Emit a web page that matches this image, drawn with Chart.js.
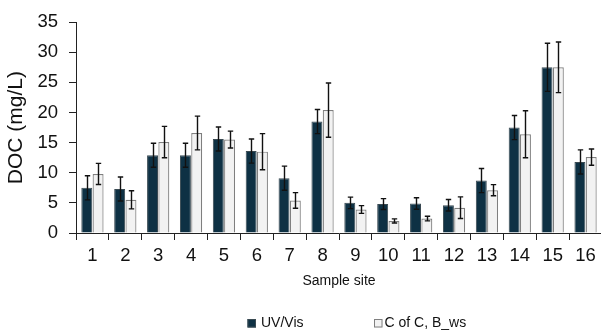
<!DOCTYPE html>
<html>
<head>
<meta charset="utf-8">
<script src="https://cdn.jsdelivr.net/npm/chart.js@4/dist/chart.umd.min.js"></script>
<style>
  html, body { margin: 0; padding: 0; background: #fff; overflow: hidden; }
  #wrap { width: 604px; height: 331px; }
</style>
</head>
<body>
<div id="wrap"><canvas id="c" width="604" height="331"></canvas></div>
<script>
const categories = ['1','2','3','4','5','6','7','8','9','10','11','12','13','14','15','16'];
const uvVis    = [7.5, 7.3, 12.9, 12.9, 15.6, 13.6, 9.1, 18.5, 5.0, 4.8, 4.9, 4.6, 8.7, 17.5, 27.5, 11.8];
const uvVisErr = [2.0, 2.0, 2.0, 2.0, 2.0, 2.0, 2.0, 2.0, 0.95, 0.9, 0.95, 0.95, 2.0, 2.0, 4.0, 2.0];
const cofc     = [9.8, 5.5, 15.1, 16.6, 15.5, 13.5, 5.4, 20.4, 3.9, 2.0, 2.4, 4.2, 7.1, 16.4, 27.5, 12.6];
const cofcErr  = [1.75, 1.5, 2.6, 2.8, 1.4, 3.0, 1.3, 4.5, 0.65, 0.35, 0.38, 1.8, 0.93, 3.9, 4.2, 1.35];
const seriesNames = ['UV/Vis', 'C of C, B_ws'];
const yTicks = { min: 0, max: 35, step: 5 };
const axisTitles = { x: 'Sample site', y: 'DOC (mg/L)' };

const FONT = '"Liberation Sans", Arial, sans-serif';

const errorBars = {
  id: 'errorBars',
  afterDatasetsDraw(chart) {
    const ctx = chart.ctx;
    const ys = chart.scales.y;
    chart.data.datasets.forEach((ds, i) => {
      const meta = chart.getDatasetMeta(i);
      meta.data.forEach((bar, j) => {
        const v = ds.data[j], e = ds.errors[j];
        const x = Math.round(bar.x) + 0.5;
        const yt = ys.getPixelForValue(v + e);
        const yb = ys.getPixelForValue(v - e);
        ctx.save();
        ctx.strokeStyle = '#111';
        ctx.lineWidth = 1.4;
        ctx.beginPath();
        ctx.moveTo(x, yt); ctx.lineTo(x, yb);
        ctx.moveTo(x - 2.7, yt); ctx.lineTo(x + 2.7, yt);
        ctx.moveTo(x - 2.7, yb); ctx.lineTo(x + 2.7, yb);
        ctx.stroke();
        ctx.restore();
      });
    });
  }
};

const customLegend = {
  id: 'customLegend',
  afterDraw(chart) {
    const ctx = chart.ctx;
    const pos = [{ bx: 247.5, tx: 261 }, { bx: 374, tx: 384.5 }];
    const y = 323;
    ctx.save();
    ctx.font = '14px ' + FONT;
    ctx.textBaseline = 'middle';
    ctx.textAlign = 'left';
    chart.data.datasets.forEach((ds, i) => {
      const p = pos[i];
      ctx.fillStyle = ds.backgroundColor;
      ctx.fillRect(p.bx, y - 4, 8.5, 8.5);
      ctx.strokeStyle = ds.borderColor;
      ctx.lineWidth = 1;
      ctx.strokeRect(p.bx + 0.5, y - 3.5, 7.5, 7.5);
      ctx.fillStyle = '#111';
      ctx.fillText(ds.label, p.tx, y);
    });
    ctx.restore();
  }
};

new Chart(document.getElementById('c'), {
  type: 'bar',
  data: {
    labels: categories,
    datasets: [
      { label: seriesNames[0], data: uvVis, errors: uvVisErr,
        backgroundColor: '#0e3144', borderColor: '#3a4a52', borderWidth: 1 },
      { label: seriesNames[1], data: cofc, errors: cofcErr,
        backgroundColor: '#f2f2f2', borderColor: '#7f7f7f', borderWidth: 1.2 }
    ]
  },
  options: {
    responsive: false,
    animation: false,
    devicePixelRatio: 1,
    layout: { padding: { top: 19, right: 2, left: 0, bottom: 0 } },
    datasets: { bar: { categoryPercentage: 0.687, barPercentage: 0.97 } },
    plugins: { legend: { display: false }, tooltip: { enabled: false } },
    scales: {
      x: {
        offset: true,
        grid: { drawOnChartArea: false, offset: true, tickLength: 7, color: '#222', lineWidth: 1 },
        border: { color: '#222', width: 1 },
        ticks: { font: { family: FONT, size: 18.5 }, color: '#111', padding: 5, maxRotation: 0, autoSkip: false },
        title: { display: true, text: axisTitles.x, font: { family: FONT, size: 14 }, color: '#111', padding: { top: 0, bottom: 41 } },
        afterFit(scale) { scale.height = 98; }
      },
      y: {
        min: yTicks.min, max: yTicks.max,
        grid: { drawOnChartArea: false, tickLength: 7, color: '#222', lineWidth: 1 },
        border: { color: '#222', width: 1 },
        ticks: { stepSize: yTicks.step, font: { family: FONT, size: 18.5 }, color: '#111', padding: 11 },
        title: { display: true, text: axisTitles.y, font: { family: FONT, size: 21 }, color: '#111', padding: { top: 4, bottom: 0 } },
        afterFit(scale) { scale.width = 76; }
      }
    }
  },
  plugins: [errorBars, customLegend]
});
</script>
</body>
</html>
